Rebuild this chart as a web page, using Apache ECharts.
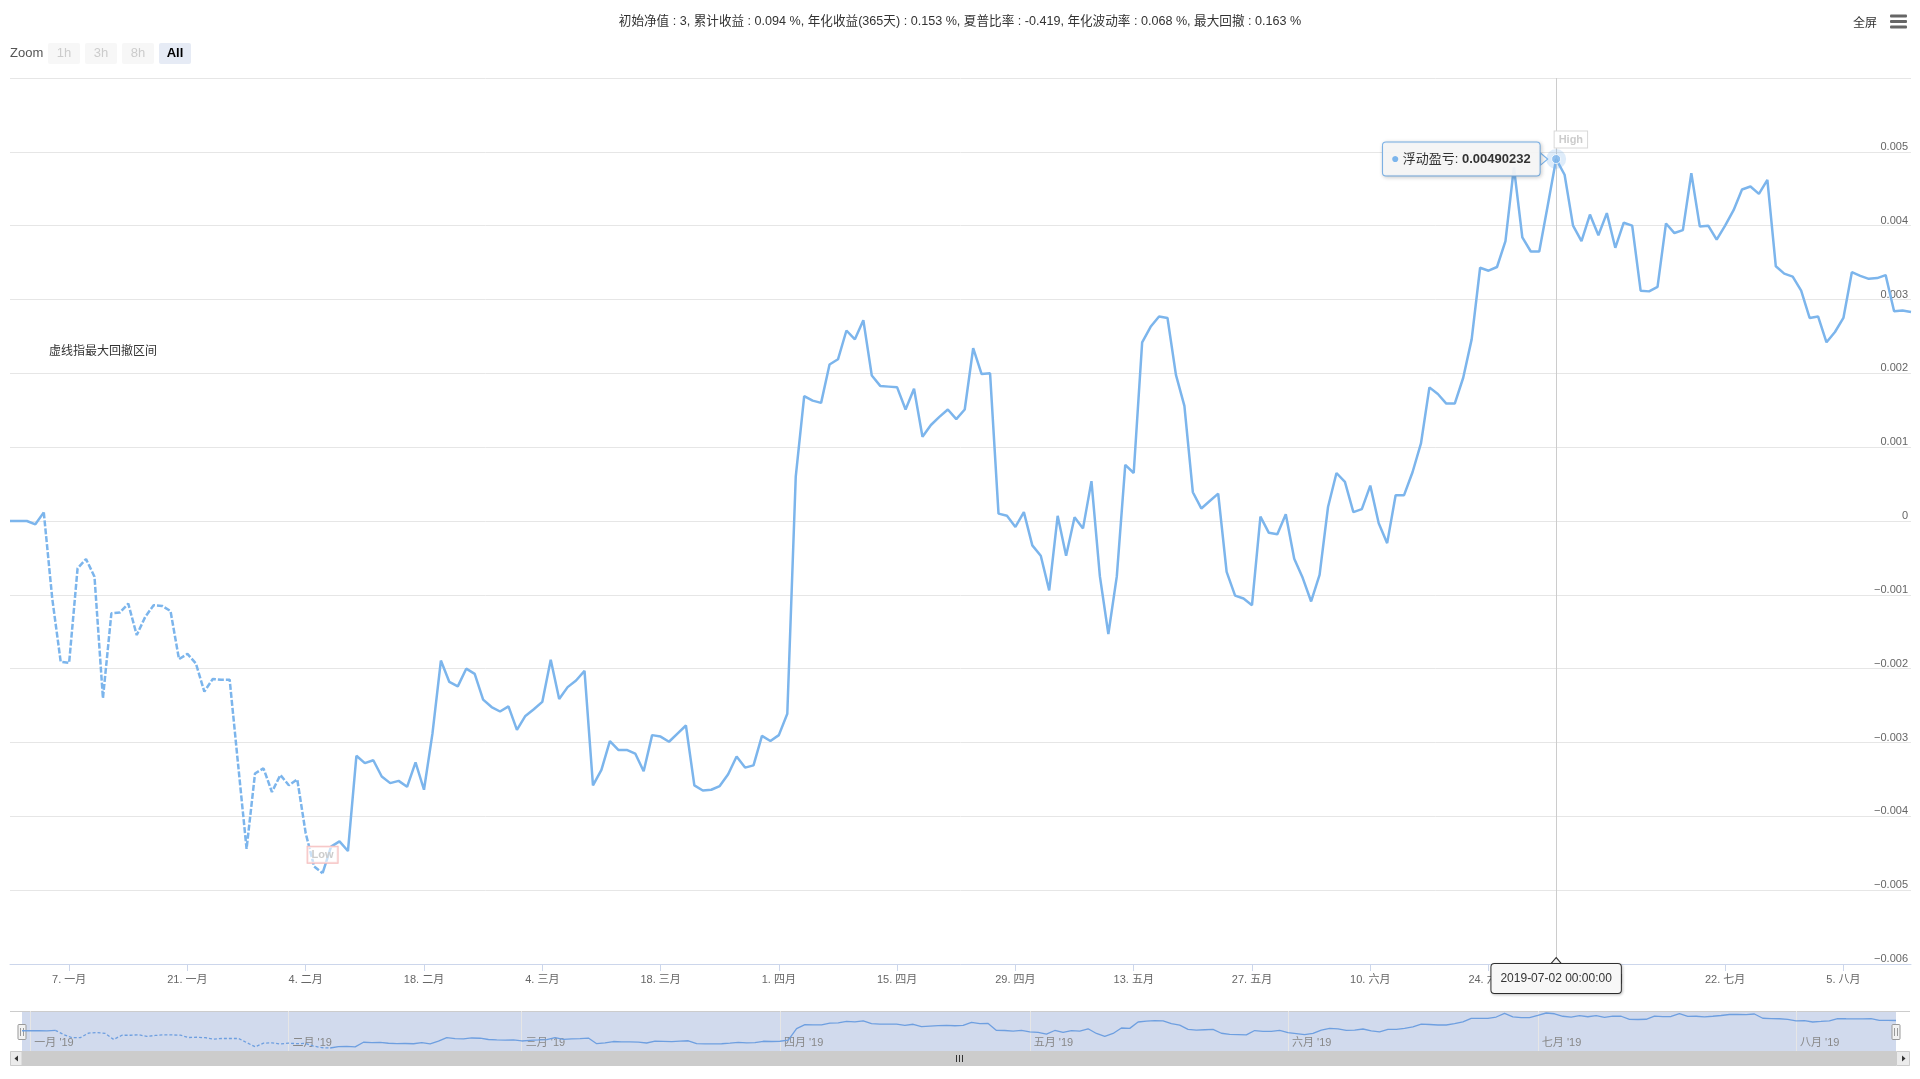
<!DOCTYPE html>
<html><head><meta charset="utf-8">
<script src="https://cdn.jsdelivr.net/npm/echarts@6/dist/echarts.min.js"></script>
<style>html,body{margin:0;padding:0;background:#fff;}#c{width:1920px;height:1079px;}</style>
</head><body><div id="c"></div>
<script>
const FONT = 'Arial, "Liberation Sans", "Noto Sans CJK SC", sans-serif';

// ---- data (浮动盈亏, daily) ----
const dec2018 = [0];
const jan2019 = [0, 0, -0.000045, 0.000117, -0.00105, -0.001906, -0.00192, -0.000641, -0.000515, -0.000754,
  -0.0024, -0.00125, -0.00124, -0.00112, -0.001545, -0.0013, -0.00114, -0.00115, -0.00122, -0.00187,
  -0.0018, -0.00193, -0.00231, -0.00214, -0.00215, -0.00215, -0.0033, -0.00444, -0.00342, -0.00335, -0.00367];
const feb2019 = [-0.00344, -0.00358, -0.0035, -0.00423, -0.00468, -0.00477, -0.00441, -0.00434, -0.00447, -0.00318,
  -0.00328, -0.00324, -0.00346, -0.00355, -0.00352, -0.0036, -0.00327, -0.00364, -0.00288, -0.00189,
  -0.00218, -0.00224, -0.002, -0.00207, -0.00242, -0.00252, -0.00258, -0.00251];
const mar2019 = [-0.00283, -0.00264, -0.00255, -0.00245, -0.00188, -0.00241, -0.00225, -0.00216, -0.00203, -0.00358,
  -0.00337, -0.00298, -0.0031, -0.0031, -0.00315, -0.00339, -0.0029, -0.00292, -0.00299, -0.00288,
  -0.00277, -0.00358, -0.00365, -0.00364, -0.00359, -0.00343, -0.00319, -0.00334, -0.00331, -0.00291, -0.00298];
const apr2019 = [-0.0029, -0.00261, 0.0006, 0.00169, 0.00163, 0.0016, 0.00212, 0.00219, 0.00258, 0.00246,
  0.00272, 0.00197, 0.00183, 0.00182, 0.00181, 0.00151, 0.00179, 0.00114, 0.0013, 0.00141,
  0.00151, 0.00138, 0.00151, 0.00234, 0.00199, 0.002, 0.0001, 0.00007, -0.00008, 0.00012];
const may2019 = [-0.00033, -0.00047, -0.00094, 0.00007, -0.00047, 0.00005, -0.0001, 0.00054, -0.00075, -0.00153,
  -0.00075, 0.00076, 0.00065, 0.00242, 0.00263, 0.00277, 0.00275, 0.00198, 0.00156, 0.00039,
  0.00017, 0.00027, 0.00037, -0.00069, -0.00101, -0.00105, -0.00114, 0.00006, -0.00016, -0.00018, 0.00009];
const jun2019 = [-0.00051, -0.00077, -0.00109, -0.00073, 0.00019, 0.00065, 0.00053, 0.00012, 0.00016, 0.00048,
  -0.00003, -0.0003, 0.00035, 0.00035, 0.00066, 0.00105, 0.00181, 0.00172, 0.00159, 0.00159,
  0.00194, 0.00246, 0.00343, 0.00339, 0.00344, 0.00379, 0.00479, 0.00384, 0.00365, 0.00365];
const jul2019 = [0.00427, 0.00490232, 0.00469, 0.004, 0.00379, 0.00415, 0.00387, 0.00417, 0.0037, 0.00404,
  0.004, 0.00312, 0.00311, 0.00317, 0.00403, 0.0039, 0.00394, 0.00471, 0.00399, 0.004,
  0.00381, 0.004, 0.00421, 0.00449, 0.00453, 0.00443, 0.00462, 0.00345, 0.00335, 0.00331, 0.00312];
const aug2019 = [0.00275, 0.00277, 0.00242, 0.00256, 0.00275, 0.00337, 0.00332, 0.00328, 0.00329, 0.00333,
  0.00284, 0.00285, 0.00283];

const monthBlocks = [
  { y: 2018, m: 11, d0: 31, vals: dec2018 },
  { y: 2019, m: 0, d0: 1, vals: jan2019 },
  { y: 2019, m: 1, d0: 1, vals: feb2019 },
  { y: 2019, m: 2, d0: 1, vals: mar2019 },
  { y: 2019, m: 3, d0: 1, vals: apr2019 },
  { y: 2019, m: 4, d0: 1, vals: may2019 },
  { y: 2019, m: 5, d0: 1, vals: jun2019 },
  { y: 2019, m: 6, d0: 1, vals: jul2019 },
  { y: 2019, m: 7, d0: 1, vals: aug2019 }
];

const monthNames = ['一月','二月','三月','四月','五月','六月','七月','八月','九月','十月','十一月','十二月'];
const mainTickDates = ['2019-01-07','2019-01-21','2019-02-04','2019-02-18','2019-03-04','2019-03-18','2019-04-01',
  '2019-04-15','2019-04-29','2019-05-13','2019-05-27','2019-06-10','2019-06-24','2019-07-08','2019-07-22','2019-08-05'];
const navTickDates = ['2019-01-01','2019-02-01','2019-03-01','2019-04-01','2019-05-01','2019-06-01','2019-07-01','2019-08-01'];
const drawdownStart = '2019-01-04';
const drawdownEnd = '2019-02-06';
const hoverDate = '2019-07-02';
const titleText = '初始净值 : 3, 累计收益 : 0.094 %, 年化收益(365天) : 0.153 %, 夏普比率 : -0.419, 年化波动率 : 0.068 %, 最大回撤 : 0.163 %';

const ts = s => { const p = s.split('-').map(Number); return Date.UTC(p[0], p[1]-1, p[2]); };

const data = [];
monthBlocks.forEach(b => b.vals.forEach((v, k) => data.push([Date.UTC(b.y, b.m, b.d0 + k), v])));
const tStart = data[0][0], tEnd = data[data.length-1][0];
const ddS = ts(drawdownStart), ddE = ts(drawdownEnd);
const solidData = data.map(([t, v]) => [t, (t > ddS && t < ddE) ? null : v]);
const dashData = data.map(([t, v]) => [t, (t >= ddS && t <= ddE) ? v : null]);
const hoverT = ts(hoverDate);
const hoverPt = data.find(d => d[0] === hoverT);
const lowPt = data.find(d => d[0] === ddE);
const mainTicks = mainTickDates.map(ts);
const navTicks = navTickDates.map(ts);

const C = '#7cb5ec';
const fmtMain = v => { const d = new Date(v); return d.getUTCDate() + '. ' + monthNames[d.getUTCMonth()]; };
const fmtNav = v => { const d = new Date(v); return monthNames[d.getUTCMonth()] + " '" + String(d.getUTCFullYear()).slice(2); };
const fmtY = v => { if (v > 0.0055) return ''; if (Math.abs(v) < 1e-9) return '0'; return (v < 0 ? '−' : '') + Math.abs(v).toFixed(3); };

const chart = echarts.init(document.getElementById('c'), null, { renderer: 'canvas' });

const btn = (x, w, label, sel) => ([
  { type: 'rect', shape: { x: x, y: 43, width: w, height: 21, r: 2 }, style: { fill: sel ? '#e6ebf5' : '#f7f7f7' }, silent: true },
  { type: 'text', x: x + w/2, y: 53.5, style: { text: label, fontSize: 13, fontFamily: FONT, fontWeight: sel ? 'bold' : 'normal', fill: sel ? '#000' : '#cccccc', align: 'center', verticalAlign: 'middle' }, silent: true }
]);

const graphics = [].concat(
  [{ type: 'text', x: 10, y: 53.5, style: { text: 'Zoom', fontSize: 13, fontFamily: FONT, fill: '#555', align: 'left', verticalAlign: 'middle' } }],
  btn(48, 32, '1h', false), btn(85, 32, '3h', false), btn(122, 32, '8h', false), btn(159, 32, 'All', true),
  [
    { type: 'text', x: 1865, y: 23.5, style: { text: '全屏', fontSize: 12, fontFamily: FONT, fill: '#333', align: 'center', verticalAlign: 'middle' } },
    { type: 'rect', shape: { x: 1890, y: 14.5, width: 17, height: 3, r: 1 }, style: { fill: '#666' } },
    { type: 'rect', shape: { x: 1890, y: 20, width: 17, height: 3, r: 1 }, style: { fill: '#666' } },
    { type: 'rect', shape: { x: 1890, y: 25.5, width: 17, height: 3, r: 1 }, style: { fill: '#666' } },
    { type: 'text', x: 49, y: 351.5, style: { text: '虚线指最大回撤区间', fontSize: 12, fontFamily: FONT, fill: '#333', align: 'left', verticalAlign: 'middle' } },
    { type: 'line', shape: { x1: 10, y1: 1011.5, x2: 1910, y2: 1011.5 }, style: { stroke: '#cccccc', lineWidth: 1 } },
    { type: 'rect', shape: { x: 10, y: 1051, width: 1900, height: 15 }, style: { fill: '#f2f2f2' } },
    { type: 'rect', shape: { x: 22, y: 1051, width: 1874, height: 15 }, style: { fill: '#cccccc' } },
    { type: 'rect', shape: { x: 10.5, y: 1051.5, width: 11.5, height: 14 }, style: { fill: '#ebebeb', stroke: '#cccccc', lineWidth: 1 } },
    { type: 'rect', shape: { x: 1896.5, y: 1051.5, width: 13, height: 14 }, style: { fill: '#ebebeb', stroke: '#cccccc', lineWidth: 1 } },
    { type: 'polygon', shape: { points: [[14.5, 1058.5], [18, 1055.5], [18, 1061.5]] }, style: { fill: '#333' } },
    { type: 'polygon', shape: { points: [[1905.5, 1058.5], [1902, 1055.5], [1902, 1061.5]] }, style: { fill: '#333' } },
    { type: 'line', shape: { x1: 956.5, y1: 1055, x2: 956.5, y2: 1062 }, style: { stroke: '#333', lineWidth: 1 } },
    { type: 'line', shape: { x1: 959.5, y1: 1055, x2: 959.5, y2: 1062 }, style: { stroke: '#333', lineWidth: 1 } },
    { type: 'line', shape: { x1: 962.5, y1: 1055, x2: 962.5, y2: 1062 }, style: { stroke: '#333', lineWidth: 1 } }
  ],
  [22, 1896].flatMap(cx => ([
    { type: 'rect', shape: { x: cx - 4, y: 1024.5, width: 8, height: 15, r: 1 }, style: { fill: '#f2f2f2', stroke: '#999', lineWidth: 1 } },
    { type: 'line', shape: { x1: cx - 1.5, y1: 1028, x2: cx - 1.5, y2: 1036 }, style: { stroke: '#999', lineWidth: 1 } },
    { type: 'line', shape: { x1: cx + 1.5, y1: 1028, x2: cx + 1.5, y2: 1036 }, style: { stroke: '#999', lineWidth: 1 } }
  ]))
);

const option = {
  animation: false,
  backgroundColor: '#fff',
  textStyle: { fontFamily: FONT },
  title: { text: titleText, left: 'center', top: 10, textStyle: { fontSize: 12.6, fontWeight: 'normal', color: '#333', fontFamily: FONT } },
  grid: [
    { left: 10, right: 9, top: 78, bottom: 115 },
    { left: 22, right: 24, top: 1011, height: 40, show: true, backgroundColor: 'rgba(102,133,194,0.3)', borderWidth: 0 }
  ],
  xAxis: [
    { type: 'value', gridIndex: 0, min: tStart, max: tEnd,
      axisLine: { onZero: false, lineStyle: { color: '#ccd6eb', width: 1 } },
      axisTick: { show: true, customValues: mainTicks, length: 7, lineStyle: { color: '#ccd6eb' } },
      axisLabel: { customValues: mainTicks, formatter: fmtMain, color: '#666', fontSize: 11, margin: 10, fontFamily: FONT, hideOverlap: false, showMinLabel: true, showMaxLabel: true },
      splitLine: { show: false } },
    { type: 'value', gridIndex: 1, min: tStart, max: tEnd,
      axisLine: { show: false, onZero: false },
      axisTick: { show: false, customValues: navTicks },
      axisLabel: { inside: true, customValues: navTicks, formatter: fmtNav, color: '#888', fontSize: 11, align: 'left', padding: [0, 0, 0, 4], margin: 3, fontFamily: FONT },
      splitLine: { show: true, lineStyle: { color: '#e6e6e6', width: 1 } } }
  ],
  yAxis: [
    { type: 'value', gridIndex: 0, position: 'right', min: -0.006, max: 0.006, interval: 0.001,
      axisLine: { show: false }, axisTick: { show: false },
      splitLine: { lineStyle: { color: '#e6e6e6', width: 1 } },
      axisLabel: { inside: true, margin: 3, verticalAlign: 'bottom', lineHeight: 10, padding: 0, color: '#666', fontSize: 11, formatter: fmtY, fontFamily: FONT } },
    { type: 'value', gridIndex: 1, show: false, scale: true,
      min: v => v.min - (v.max - v.min) * 3 / 35,
      max: v => v.max + (v.max - v.min) * 2 / 35,
      splitLine: { show: false } }
  ],
  series: [
    { name: '浮动盈亏', type: 'line', xAxisIndex: 0, yAxisIndex: 0, data: solidData, showSymbol: false, connectNulls: false,
      lineStyle: { color: C, width: 2.5 }, itemStyle: { color: C }, z: 3, silent: true,
      markLine: { silent: true, symbol: ['none', 'none'], animation: false,
        lineStyle: { color: '#cccccc', width: 1, type: 'solid' },
        label: { show: true, position: 'start', distance: 0, formatter: hoverDate + ' 00:00:00',
          color: '#333', fontSize: 12, fontFamily: FONT, backgroundColor: '#f7f7f7', borderColor: '#333', borderWidth: 1, borderRadius: 3,
          padding: [9, 9, 8, 9], shadowColor: 'rgba(0,0,0,0.2)', shadowBlur: 3, shadowOffsetX: 1, shadowOffsetY: 1 },
        data: [{ xAxis: hoverT }] },
      markPoint: { silent: true, animation: false,
        data: [{ coord: lowPt, symbol: 'circle', symbolSize: 1, itemStyle: { color: 'rgba(0,0,0,0)' },
          label: { show: true, position: 'top', distance: 10, formatter: 'Low', color: '#cccccc', fontSize: 11, fontWeight: 'bold', fontFamily: FONT,
            backgroundColor: 'rgba(255,255,255,0.6)', borderColor: '#f5bcbc', borderWidth: 1, padding: [3, 4, 2, 4] } }] } },
    { name: 'dd', type: 'line', xAxisIndex: 0, yAxisIndex: 0, data: dashData, showSymbol: false, connectNulls: false,
      lineStyle: { color: C, width: 2.5, type: [6, 2] }, z: 3, silent: true },
    { name: 'nav', type: 'line', xAxisIndex: 1, yAxisIndex: 1, data: solidData, showSymbol: false, connectNulls: false,
      lineStyle: { color: '#6e9fe0', width: 1.3 }, z: 3, silent: true },
    { name: 'navdd', type: 'line', xAxisIndex: 1, yAxisIndex: 1, data: dashData, showSymbol: false, connectNulls: false,
      lineStyle: { color: '#6e9fe0', width: 1.3, type: [3, 2] }, z: 3, silent: true },
    { name: 'hover', type: 'scatter', xAxisIndex: 0, yAxisIndex: 0, z: 10, silent: true,
      data: [hoverPt], symbolSize: 9, itemStyle: { color: C, borderColor: '#fff', borderWidth: 1 },
      markPoint: { silent: true, animation: false,
        data: [
          { coord: hoverPt, symbol: 'circle', symbolSize: 20, itemStyle: { color: 'rgba(124,181,236,0.25)' }, label: { show: false } },
          { coord: hoverPt, symbol: 'circle', symbolSize: 1, itemStyle: { color: 'rgba(0,0,0,0)' },
            label: { show: true, position: [-1, -27], formatter: 'High', color: '#cccccc', fontSize: 11, fontWeight: 'bold', fontFamily: FONT,
              backgroundColor: '#fff', borderColor: '#d8d8d8', borderWidth: 1, padding: [3, 4, 2, 4] } },
          { coord: hoverPt, symbol: 'triangle', symbolRotate: -90, symbolSize: [12, 7], symbolOffset: [-12, 0],
            itemStyle: { color: '#f7f7f7', borderColor: C, borderWidth: 1 }, label: { show: false } },
          { coord: hoverPt, symbol: 'circle', symbolSize: 1, itemStyle: { color: 'rgba(0,0,0,0)' },
            label: { show: true, position: 'left', distance: 16,
              formatter: '{d|●} {t|浮动盈亏: }{v|' + hoverPt[1].toFixed(8) + '}',
              backgroundColor: 'rgba(247,247,247,0.92)', borderColor: C, borderWidth: 1, borderRadius: 3, padding: [10, 9, 9, 8],
              shadowColor: 'rgba(0,0,0,0.18)', shadowBlur: 4, shadowOffsetX: 1, shadowOffsetY: 1,
              rich: { d: { color: C, fontSize: 14, fontFamily: FONT }, t: { color: '#333', fontSize: 13, fontFamily: FONT }, v: { color: '#333', fontSize: 13, fontWeight: 'bold', fontFamily: FONT } } } },
          { coord: [hoverT, -0.006], symbol: 'triangle', symbolSize: [12, 7], symbolOffset: [0, -3],
            itemStyle: { color: '#f7f7f7', borderColor: '#333', borderWidth: 1 }, label: { show: false } }
        ] } }
  ],
  graphic: graphics
};
chart.setOption(option);
</script></body></html>
